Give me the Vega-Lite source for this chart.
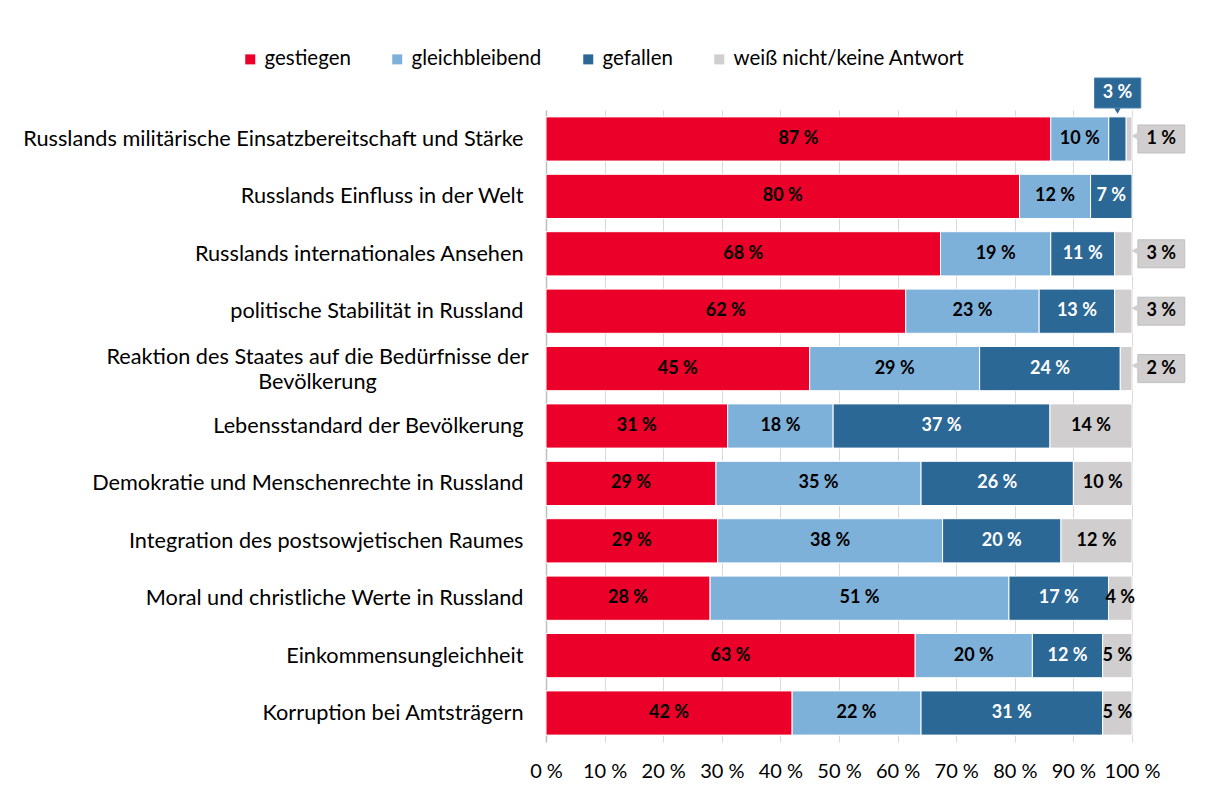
{
  "$schema": "https://vega.github.io/schema/vega-lite/v6.json",
  "width": 586,
  "height": 632,
  "autosize": {"type": "none"},
  "padding": {"left": 546, "top": 110, "right": 77, "bottom": 64},
  "background": "white",
  "config": {"font": "Lato", "view": {"stroke": null}},
  "data": {
    "values": [
      {"cat": "Russlands militärische Einsatzbereitschaft und Stärke", "series": "gestiegen", "o": 1, "v": 87},
      {"cat": "Russlands militärische Einsatzbereitschaft und Stärke", "series": "gleichbleibend", "o": 2, "v": 10},
      {"cat": "Russlands militärische Einsatzbereitschaft und Stärke", "series": "gefallen", "o": 3, "v": 3},
      {"cat": "Russlands militärische Einsatzbereitschaft und Stärke", "series": "weiß nicht/keine Antwort", "o": 4, "v": 1},
      {"cat": "Russlands Einfluss in der Welt", "series": "gestiegen", "o": 1, "v": 80},
      {"cat": "Russlands Einfluss in der Welt", "series": "gleichbleibend", "o": 2, "v": 12},
      {"cat": "Russlands Einfluss in der Welt", "series": "gefallen", "o": 3, "v": 7},
      {"cat": "Russlands internationales Ansehen", "series": "gestiegen", "o": 1, "v": 68},
      {"cat": "Russlands internationales Ansehen", "series": "gleichbleibend", "o": 2, "v": 19},
      {"cat": "Russlands internationales Ansehen", "series": "gefallen", "o": 3, "v": 11},
      {"cat": "Russlands internationales Ansehen", "series": "weiß nicht/keine Antwort", "o": 4, "v": 3},
      {"cat": "politische Stabilität in Russland", "series": "gestiegen", "o": 1, "v": 62},
      {"cat": "politische Stabilität in Russland", "series": "gleichbleibend", "o": 2, "v": 23},
      {"cat": "politische Stabilität in Russland", "series": "gefallen", "o": 3, "v": 13},
      {"cat": "politische Stabilität in Russland", "series": "weiß nicht/keine Antwort", "o": 4, "v": 3},
      {"cat": "Reaktion des Staates auf die Bedürfnisse der Bevölkerung", "series": "gestiegen", "o": 1, "v": 45},
      {"cat": "Reaktion des Staates auf die Bedürfnisse der Bevölkerung", "series": "gleichbleibend", "o": 2, "v": 29},
      {"cat": "Reaktion des Staates auf die Bedürfnisse der Bevölkerung", "series": "gefallen", "o": 3, "v": 24},
      {"cat": "Reaktion des Staates auf die Bedürfnisse der Bevölkerung", "series": "weiß nicht/keine Antwort", "o": 4, "v": 2},
      {"cat": "Lebensstandard der Bevölkerung", "series": "gestiegen", "o": 1, "v": 31},
      {"cat": "Lebensstandard der Bevölkerung", "series": "gleichbleibend", "o": 2, "v": 18},
      {"cat": "Lebensstandard der Bevölkerung", "series": "gefallen", "o": 3, "v": 37},
      {"cat": "Lebensstandard der Bevölkerung", "series": "weiß nicht/keine Antwort", "o": 4, "v": 14},
      {"cat": "Demokratie und Menschenrechte in Russland", "series": "gestiegen", "o": 1, "v": 29},
      {"cat": "Demokratie und Menschenrechte in Russland", "series": "gleichbleibend", "o": 2, "v": 35},
      {"cat": "Demokratie und Menschenrechte in Russland", "series": "gefallen", "o": 3, "v": 26},
      {"cat": "Demokratie und Menschenrechte in Russland", "series": "weiß nicht/keine Antwort", "o": 4, "v": 10},
      {"cat": "Integration des postsowjetischen Raumes", "series": "gestiegen", "o": 1, "v": 29},
      {"cat": "Integration des postsowjetischen Raumes", "series": "gleichbleibend", "o": 2, "v": 38},
      {"cat": "Integration des postsowjetischen Raumes", "series": "gefallen", "o": 3, "v": 20},
      {"cat": "Integration des postsowjetischen Raumes", "series": "weiß nicht/keine Antwort", "o": 4, "v": 12},
      {"cat": "Moral und christliche Werte in Russland", "series": "gestiegen", "o": 1, "v": 28},
      {"cat": "Moral und christliche Werte in Russland", "series": "gleichbleibend", "o": 2, "v": 51},
      {"cat": "Moral und christliche Werte in Russland", "series": "gefallen", "o": 3, "v": 17},
      {"cat": "Moral und christliche Werte in Russland", "series": "weiß nicht/keine Antwort", "o": 4, "v": 4},
      {"cat": "Einkommensungleichheit", "series": "gestiegen", "o": 1, "v": 63},
      {"cat": "Einkommensungleichheit", "series": "gleichbleibend", "o": 2, "v": 20},
      {"cat": "Einkommensungleichheit", "series": "gefallen", "o": 3, "v": 12},
      {"cat": "Einkommensungleichheit", "series": "weiß nicht/keine Antwort", "o": 4, "v": 5},
      {"cat": "Korruption bei Amtsträgern", "series": "gestiegen", "o": 1, "v": 42},
      {"cat": "Korruption bei Amtsträgern", "series": "gleichbleibend", "o": 2, "v": 22},
      {"cat": "Korruption bei Amtsträgern", "series": "gefallen", "o": 3, "v": 31},
      {"cat": "Korruption bei Amtsträgern", "series": "weiß nicht/keine Antwort", "o": 4, "v": 5}
    ]
  },
  "transform": [
    {"stack": "v", "groupby": ["cat"], "sort": [{"field": "o"}], "offset": "normalize", "as": ["x0", "x1"]},
    {"calculate": "(datum.x0 + datum.x1) / 2", "as": "xm"},
    {"calculate": "datum.v + ' %'", "as": "lbl"}
  ],
  "encoding": {
    "y": {
      "field": "cat",
      "type": "nominal",
      "sort": [
        "Russlands militärische Einsatzbereitschaft und Stärke",
        "Russlands Einfluss in der Welt",
        "Russlands internationales Ansehen",
        "politische Stabilität in Russland",
        "Reaktion des Staates auf die Bedürfnisse der Bevölkerung",
        "Lebensstandard der Bevölkerung",
        "Demokratie und Menschenrechte in Russland",
        "Integration des postsowjetischen Raumes",
        "Moral und christliche Werte in Russland",
        "Einkommensungleichheit",
        "Korruption bei Amtsträgern"
      ],
      "scale": {"paddingInner": 0.23, "paddingOuter": 0.12},
      "axis": {
        "title": null,
        "ticks": false,
        "domain": true,
        "domainColor": "#BFBFBF",
        "domainWidth": 1.5,
        "labelFont": "Lato",
        "labelFontSize": 21.7,
        "labelColor": "#000000",
        "labelLimit": 700,
        "labelLineHeight": 25,
        "labelAlign": {"condition": {"test": "indexof(datum.value, 'Reaktion') == 0", "value": "center"}, "value": "right"},
        "labelPadding": {"condition": {"test": "indexof(datum.value, 'Reaktion') == 0", "value": 229}, "value": 23},
        "labelOffset": {"condition": {"test": "indexof(datum.value, 'Reaktion') == 0", "value": -12}, "value": 0},
        "labelExpr": "indexof(datum.value, 'Reaktion') == 0 ? ['Reaktion des Staates auf die Bedürfnisse der', 'Bevölkerung'] : datum.value"
      }
    }
  },
  "layer": [
    {
      "mark": {"type": "bar", "stroke": "white", "strokeWidth": 1},
      "encoding": {
        "x": {
          "field": "x0",
          "type": "quantitative",
          "scale": {"domain": [0, 1]},
          "axis": {
            "title": null,
            "values": [0, 0.1, 0.2, 0.3, 0.4, 0.5, 0.6, 0.7, 0.8, 0.9, 1],
            "labelExpr": "round(datum.value * 100) + ' %'",
            "labelOverlap": false,
            "labelFlush": false,
            "grid": true,
            "gridColor": "#D9D9D9",
            "gridWidth": 1,
            "domain": false,
            "ticks": false,
            "labelFont": "Lato",
            "labelFontSize": 20,
            "labelColor": "#000000",
            "labelPadding": 19
          }
        },
        "x2": {"field": "x1"},
        "color": {
          "field": "series",
          "type": "nominal",
          "scale": {
            "domain": ["gestiegen", "gleichbleibend", "gefallen", "weiß nicht/keine Antwort"],
            "range": ["#EA0029", "#7EB1DA", "#2C6896", "#D0CECE"]
          },
          "legend": {
            "title": null,
            "orient": "none",
            "direction": "horizontal",
            "legendX": -306,
            "legendY": -61,
            "symbolType": "square",
            "symbolSize": 100,
            "symbolStrokeWidth": 0,
            "labelFont": "Lato",
            "labelFontSize": 20.5,
            "labelColor": "#000000",
            "labelLimit": 400,
            "labelOffset": 4,
            "columnPadding": 36
          }
        }
      }
    },
    {
      "transform": [{"filter": "datum.v > 3"}],
      "mark": {"type": "text", "font": "Lato", "fontWeight": "bold", "fontSize": 18, "baseline": "middle", "align": "center"},
      "encoding": {
        "x": {"field": "xm", "type": "quantitative"},
        "text": {"field": "lbl"},
        "color": {"condition": {"test": "datum.series == 'gefallen'", "value": "white"}, "value": "black"}
      }
    },
    {
      "transform": [{"filter": "datum.v <= 3 && datum.series == 'weiß nicht/keine Antwort'"}],
      "mark": {"type": "bar", "height": 28, "fill": "#D0CECE", "stroke": "#BFBFBF", "strokeWidth": 1},
      "encoding": {"x": {"datum": 1.01}, "x2": {"datum": 1.09}}
    },
    {
      "transform": [{"filter": "datum.v <= 3 && datum.series == 'weiß nicht/keine Antwort'"}],
      "mark": {"type": "point", "shape": "triangle-left", "filled": true, "size": 40, "color": "#D0CECE", "opacity": 1, "yOffset": -3},
      "encoding": {"x": {"datum": 1.004}}
    },
    {
      "transform": [{"filter": "datum.v <= 3 && datum.series == 'weiß nicht/keine Antwort'"}],
      "mark": {"type": "text", "font": "Lato", "fontWeight": "bold", "fontSize": 18, "baseline": "middle", "align": "center", "color": "black"},
      "encoding": {"x": {"datum": 1.05}, "text": {"field": "lbl"}}
    },
    {
      "transform": [{"filter": "datum.v <= 3 && datum.series == 'gefallen'"}],
      "mark": {"type": "bar", "height": 30, "yOffset": -46, "fill": "#2C6896", "stroke": "#4A82AE", "strokeWidth": 1},
      "encoding": {"x": {"datum": 0.936}, "x2": {"datum": 1.015}}
    },
    {
      "transform": [{"filter": "datum.v <= 3 && datum.series == 'gefallen'"}],
      "mark": {"type": "point", "shape": "triangle-down", "filled": true, "size": 40, "color": "#2C6896", "opacity": 1, "yOffset": -28},
      "encoding": {"x": {"field": "xm", "type": "quantitative"}}
    },
    {
      "transform": [{"filter": "datum.v <= 3 && datum.series == 'gefallen'"}],
      "mark": {"type": "text", "font": "Lato", "fontWeight": "bold", "fontSize": 18, "baseline": "middle", "align": "center", "color": "white", "yOffset": -46},
      "encoding": {"x": {"field": "xm", "type": "quantitative"}, "text": {"field": "lbl"}}
    }
  ]
}
